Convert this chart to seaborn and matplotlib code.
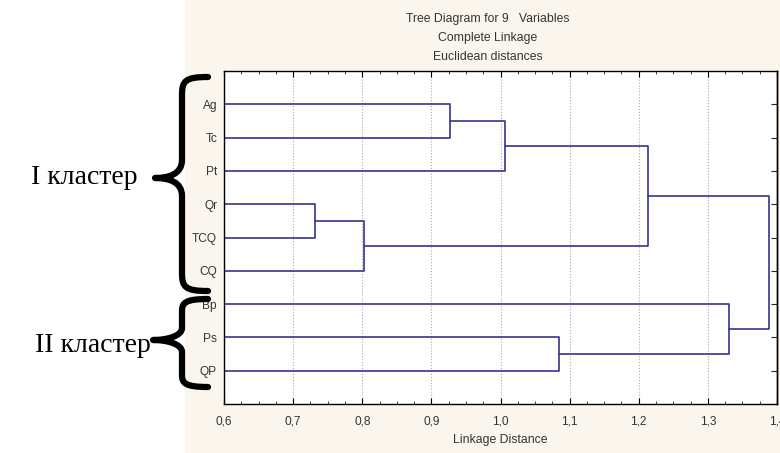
import numpy as np
import pandas as pd
import seaborn as sns
import matplotlib.pyplot as plt
from matplotlib.path import Path
from matplotlib.patches import PathPatch, Rectangle
from matplotlib.ticker import MultipleLocator, FuncFormatter

# leaves, top to bottom
leaves = ['Ag', 'Tc', 'Pt', 'Qr', 'TCQ', 'CQ', 'Bp', 'Ps', 'QP']

# merges in order: left child, right child, linkage distance
merge_left = ['Ag', 'm0', 'Qr', 'm2', 'm1', 'Ps', 'Bp', 'm4']
merge_right = ['Tc', 'Pt', 'TCQ', 'CQ', 'm3', 'QP', 'm5', 'm6']
merge_dist = [0.927, 1.007, 0.732, 0.802, 1.214, 1.085, 1.331, 1.389]

title_lines = ['Tree Diagram for 9   Variables', 'Complete Linkage', 'Euclidean distances']
cluster_labels = ['I кластер', 'II кластер']

# build segments of the dendrogram
pos = {name: i + 1 for i, name in enumerate(leaves)}
height = {name: 0.0 for name in leaves}
rows = []
for k, (a, b, d) in enumerate(zip(merge_left, merge_right, merge_dist)):
    seg = [(height[a], pos[a]), (d, pos[a]), (d, pos[b]), (height[b], pos[b])]
    for x, y in seg:
        rows.append({'seg': k, 'x': x, 'y': y})
    node = 'm%d' % k
    pos[node] = (pos[a] + pos[b]) / 2
    height[node] = d
df = pd.DataFrame(rows)

sns.set_style('white')
plt.rcParams['font.family'] = ['Liberation Sans', 'DejaVu Sans']

W, H = 780, 453
fig = plt.figure(figsize=(W / 100, H / 100), dpi=100, facecolor='white')
fig.patches.append(Rectangle((185 / W, 0), 1, 1, transform=fig.transFigure,
                             facecolor='#faf6ee', edgecolor='none', zorder=-10))

ax = fig.add_axes([224 / W, 1 - 404 / H, (777 - 224) / W, (404 - 71) / H])
ax.set_facecolor('white')

sns.lineplot(data=df, x='x', y='y', units='seg', estimator=None, sort=False,
             color='#34348e', lw=1.2, ax=ax, legend=False)

ax.set_xlim(0.6, 1.4)
ax.set_ylim(10, 0)
ax.xaxis.set_major_locator(MultipleLocator(0.1))
ax.xaxis.set_minor_locator(MultipleLocator(0.025))
ax.xaxis.set_major_formatter(FuncFormatter(lambda v, p: ('%.1f' % v).replace('.', ',')))
ax.set_yticks(range(1, len(leaves) + 1))
ax.set_yticklabels(leaves)
ax.grid(axis='x', which='major', color='#a8a8b8', ls=':', lw=0.8)
ax.set_axisbelow(True)

ax.tick_params(axis='x', which='major', direction='in', top=True, bottom=True,
               length=4, width=0.8, labelsize=8.6, pad=8, colors='black')
ax.tick_params(axis='x', which='minor', direction='in', top=True, bottom=True,
               length=2, width=0.6)
ax.tick_params(axis='y', direction='out', length=4, width=0.8, labelsize=8.6, pad=1)
ax.tick_params(axis='both', labelcolor='#333333')
sec = ax.secondary_yaxis('right')
sec.set_yticks(range(1, len(leaves) + 1))
sec.tick_params(direction='in', length=4, width=0.8, labelright=False)
for sp in list(ax.spines.values()) + list(sec.spines.values()):
    sp.set_color('black')
    sp.set_linewidth(1.0)

ax.set_xlabel('Linkage Distance', fontsize=8.8, color='#333333', labelpad=5)
ax.set_ylabel('')

for i, t in enumerate(title_lines):
    fig.text(488 / W, 1 - (19 + 19 * i) / H, t, ha='center', va='center',
             fontsize=8.8, color='#333333')


def brace(x_end, x_sp, x_tip, y_top, y_tip, y_bot, r=14):
    pts = [(x_end, y_top),
           (x_sp + 3, y_top), (x_sp, y_top + 4), (x_sp, y_top + r),
           (x_sp, y_tip - r),
           (x_sp, y_tip - 4), (x_tip + 14, y_tip), (x_tip, y_tip),
           (x_tip + 14, y_tip), (x_sp, y_tip + 4), (x_sp, y_tip + r),
           (x_sp, y_bot - r),
           (x_sp, y_bot - 4), (x_sp + 3, y_bot), (x_end, y_bot)]
    codes = [Path.MOVETO] + [Path.CURVE4] * 3 + [Path.LINETO] + [Path.CURVE4] * 6 + \
            [Path.LINETO] + [Path.CURVE4] * 3
    verts = [(px / W, 1 - py / H) for px, py in pts]
    fig.patches.append(PathPatch(Path(verts, codes), transform=fig.transFigure,
                                 facecolor='none', edgecolor='black', lw=4.5,
                                 capstyle='round', joinstyle='round'))


brace(208, 182, 155, 77, 178, 291, r=18)
brace(208, 182, 153, 299, 340, 387, r=12)

fig.text(31 / W, 1 - 178 / H, cluster_labels[0], ha='left', va='center',
         fontsize=20, family='Liberation Serif', color='black')
fig.text(151 / W, 1 - 346 / H, cluster_labels[1], ha='right', va='center',
         fontsize=20, family='Liberation Serif', color='black')

fig.savefig('out.png', dpi=100, facecolor=fig.get_facecolor())
